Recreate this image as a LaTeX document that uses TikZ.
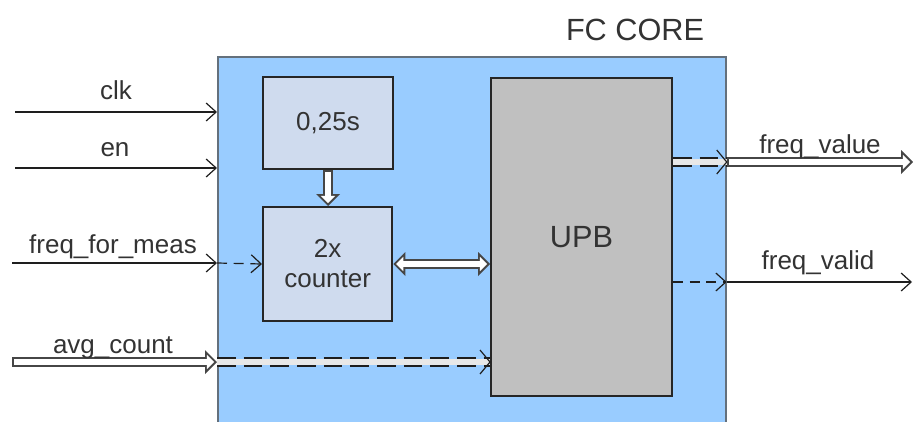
\documentclass[tikz,border=0pt]{standalone}
\usepackage{fontspec}
\setmainfont{Liberation Sans}
\usetikzlibrary{arrows.meta}
\definecolor{corefill}{RGB}{153,204,255}
\definecolor{coreline}{RGB}{100,112,124}
\definecolor{boxfill}{RGB}{207,219,238}
\definecolor{upbfill}{RGB}{192,192,192}
\definecolor{txt}{RGB}{51,51,51}
\definecolor{arrline}{RGB}{30,30,30}
\definecolor{hollowline}{RGB}{70,70,70}
\definecolor{bandfill}{RGB}{232,232,232}
\begin{document}
\begin{tikzpicture}[x=0.75pt,y=-0.75pt,
  lbl/.style={font=\fontsize{19.5}{22.5}\selectfont, text=txt, inner sep=0pt, anchor=base},
  ttl/.style={font=\fontsize{23}{26}\selectfont, text=txt, inner sep=0pt, anchor=base},
  corebox/.style={draw=coreline, line width=1.3pt, fill=corefill, inner sep=0pt, anchor=north west},
  blk/.style={draw=black!85, line width=1.5pt, fill=boxfill, inner sep=0pt, anchor=north west,
    font=\fontsize{19.5}{22.5}\selectfont, text=txt, align=center},
  upbbox/.style={draw=black!85, line width=1.5pt, fill=upbfill, inner sep=0pt, anchor=north west,
    font=\fontsize{23}{26}\selectfont, text=txt},
  sig/.style={draw=arrline, line width=0.9pt, -{Straight Barb[length=7.5pt,width=13.5pt,line width=0.9pt]}},
  dsig/.style={sig, dash pattern=on 7.5pt off 5pt},
  hollow/.style={draw=hollowline, line width=7.5pt, -{Triangle[length=9pt,width=18pt,line width=0pt]},
    postaction={draw=white, line width=4.5pt, shorten <=1.5pt, shorten >=2.12pt,
      -{Triangle[length=5.4pt,width=10.8pt,line width=0pt]}}},
  hollowboth/.style={draw=hollowline, line width=7.5pt,
    {Triangle[length=9pt,width=18pt,line width=0pt]}-{Triangle[length=9pt,width=18pt,line width=0pt]},
    postaction={draw=white, line width=4.5pt, shorten <=2.12pt, shorten >=2.12pt,
      {Triangle[length=5.4pt,width=10.8pt,line width=0pt]}-{Triangle[length=5.4pt,width=10.8pt,line width=0pt]}}},
  band/.style={preaction={draw=bandfill, line width=5pt, solid},
    draw=arrline, line width=1.2pt, double=bandfill, double distance=5pt, dash pattern=on 14pt off 6pt},
  chev/.style={draw=arrline, line width=0.9pt, solid}
]
\useasboundingbox (0,0) rectangle (913,421);
\clip (0,0) rectangle (913,421);

% blocks
\node[corebox, minimum width=381pt, minimum height=300pt] (core) at (217,56) {};
\node[ttl] (title) at (635,40) {FC CORE};
\node[blk, minimum width=97.5pt, minimum height=69pt] (timer) at (262,76) {0,25s};
\node[blk, minimum width=97pt, minimum height=85.5pt] (counter) at (262,206) {2x\\counter};
\node[upbbox, minimum width=135.75pt, minimum height=238.5pt] (upb) at (490,77) {UPB};

% free ends
\coordinate (clkin) at (15,112);
\coordinate (enin) at (15,168);
\coordinate (fmin) at (12,263);
\coordinate (avgin) at (12,362);
\coordinate (fvout) at (913,162);
\coordinate (fvdout) at (912,282);
\coordinate (avgend) at (avgin -| upb.west);
\coordinate (fvend) at (fvout -| core.east);

% inputs
\draw[sig] (clkin) -- (clkin -| core.west);
\draw[sig] (enin) -- (enin -| core.west);
\draw[sig] (fmin) -- (fmin -| core.west);
\draw[dsig] (fmin -| core.west) -- (counter.west);
\draw[hollow] (avgin) -- (avgin -| core.west);
\draw[band] (avgin -| core.west) -- (avgend);
\draw[chev] ([shift={(-10,-12)}]avgend) -- (avgend) -- ([shift={(-10,12)}]avgend);

% internal
\draw[hollow] (timer.south) -- (timer.south |- counter.north);
\draw[hollowboth] (counter.east) -- (counter.east -| upb.west);

% outputs
\draw[band] (fvout -| upb.east) -- (fvend);
\draw[chev] ([shift={(-10,-12)}]fvend) -- (fvend) -- ([shift={(-10,12)}]fvend);
\draw[hollow] (fvend) -- (fvout);
\draw[dsig] (fvdout -| upb.east) -- (fvdout -| core.east);
\draw[sig] (fvdout -| core.east) -- (fvdout);

% labels
\node[lbl] (lclk) at (116,99) {clk};
\node[lbl] (len) at (115,156) {en};
\node[lbl] (lfm) at (113,253) {freq\_for\_meas};
\node[lbl] (lavg) at (113,353) {avg\_count};
\node[lbl] (lfv) at (820,153) {freq\_value};
\node[lbl] (lfvd) at (818,269) {freq\_valid};
\end{tikzpicture}
\end{document}
